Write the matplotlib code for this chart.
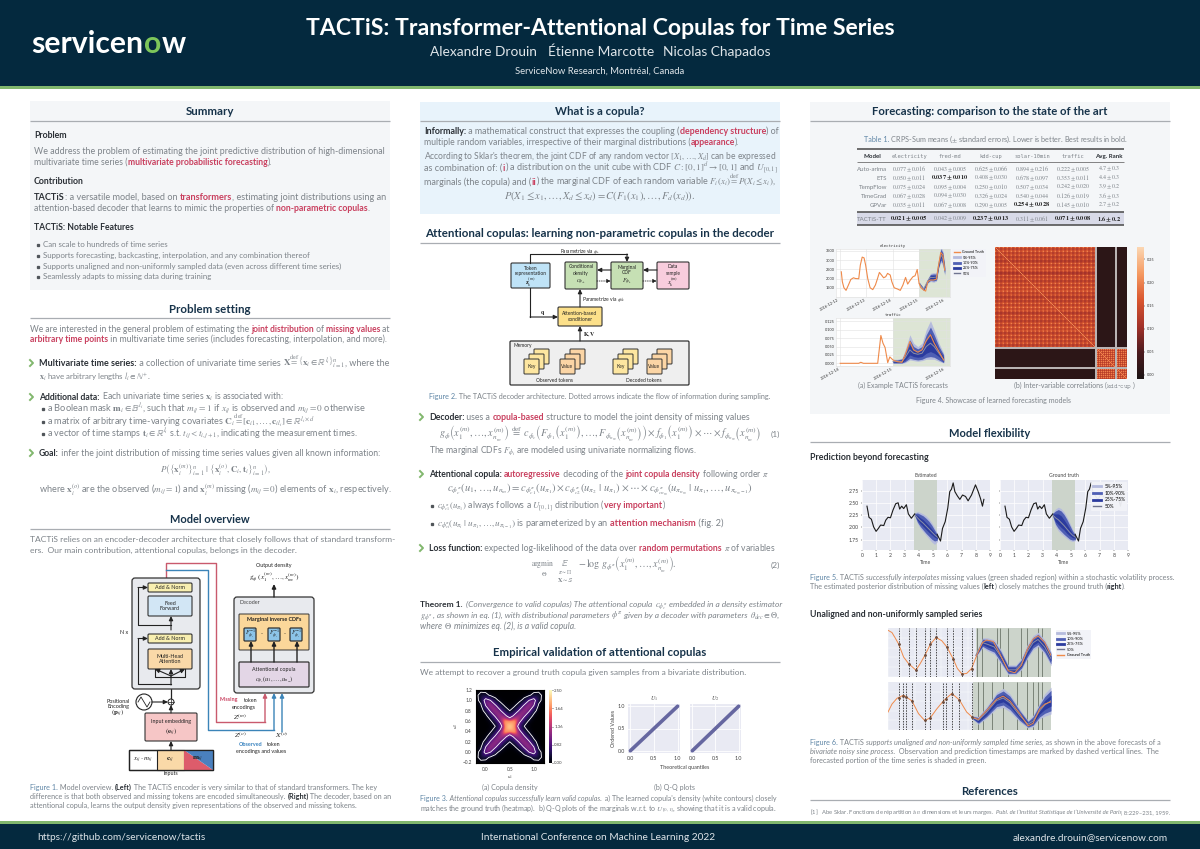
import numpy as np
import matplotlib
matplotlib.use('Agg')
import matplotlib.pyplot as plt
from matplotlib.colors import FuncNorm, LinearSegmentedColormap
from matplotlib.lines import Line2D
from matplotlib.patches import FancyBboxPatch, Polygon, Rectangle, Circle

plt.rcParams['font.family'] = ['Lato', 'DejaVu Sans']
plt.rcParams['mathtext.fontset'] = 'stix'

NAVY = '#04293e'
GREEN = '#81b76d'
GREY = '#7d8389'
DARK = '#2b3036'
RED = '#c9405f'
HEAD = '#17334a'
CAPBLUE = '#5f86a6'
BLUE = '#3b84c0'
PANEL = '#f4f6f8'
PANELBLUE = '#e8f3fb'

# Table 1
table_models = ['Auto-arima', 'ETS', 'TempFlow', 'TimeGrad', 'GPVar', 'TACTiS-TT']
table_headers = ['electricity', 'fred-md', 'kdd-cup', 'solar-10min', 'traffic']
table_values = [
    ['0.077 \\pm 0.016', '0.043 \\pm 0.005', '0.625 \\pm 0.066', '0.894 \\pm 0.216', '0.222 \\pm 0.005', '4.7 \\pm 0.3'],
    ['0.050 \\pm 0.011', '0.037 \\pm 0.010', '0.408 \\pm 0.030', '0.678 \\pm 0.097', '0.353 \\pm 0.011', '4.4 \\pm 0.3'],
    ['0.075 \\pm 0.024', '0.095 \\pm 0.004', '0.250 \\pm 0.010', '0.507 \\pm 0.034', '0.242 \\pm 0.020', '3.9 \\pm 0.2'],
    ['0.067 \\pm 0.028', '0.094 \\pm 0.030', '0.326 \\pm 0.024', '0.540 \\pm 0.044', '0.126 \\pm 0.019', '3.6 \\pm 0.3'],
    ['0.035 \\pm 0.011', '0.067 \\pm 0.008', '0.290 \\pm 0.005', '0.254 \\pm 0.028', '0.145 \\pm 0.010', '2.7 \\pm 0.2'],
    ['0.021 \\pm 0.005', '0.042 \\pm 0.009', '0.237 \\pm 0.013', '0.311 \\pm 0.061', '0.071 \\pm 0.008', '1.6 \\pm 0.2'],
]
table_bold = [(1, 1), (4, 3), (5, 0), (5, 2), (5, 4), (5, 5)]

# Figure 3a, one quadrant of the copula density, mirrored when drawn
copula_quadrant = np.array([
    [0, 0, 0, 0, 0, 0, 0, 0],
    [0, .35, .30, .08, 0, 0, 0, 0],
    [0, .30, 1.20, .90, .30, .05, 0, 0],
    [0, .08, .90, 1.35, 1.00, .40, .10, .03],
    [0, 0, .30, 1.00, 1.30, 1.00, .40, .15],
    [0, 0, .05, .40, 1.00, 1.35, 1.10, .50],
    [0, 0, 0, .10, .40, 1.10, 2.00, 1.60],
    [0, 0, 0, .03, .15, .50, 1.60, 2.50],
])
copula_ticks = [0.00, 0.82, 1.36, 1.64, 2.50]
copula_axis = [-0.2, -0.1, 0.0, 0.1, 0.2, 0.3, 0.4, 0.5, 0.6, 0.7, 0.8, 0.9, 1.0, 1.1, 1.2]

# Figure 3b
qq_quantiles = [0.0, 0.25, 0.5, 0.75, 1.0]

# Figure 4a, electricity
elec_t = [.05, .09, .15, .23, .32, .41, .51, .59, .71, .77, .84, .91, .97, 1.05, 1.14, 1.24, 1.34, 1.42, 1.49, 1.57,
          1.65, 1.73, 1.80, 1.90, 1.96, 2.05, 2.18, 2.28, 2.38, 2.48, 2.56, 2.66, 2.76, 2.84, 2.92, 2.99, 3.06, 3.16,
          3.24, 3.32, 3.42, 3.54, 3.65, 3.73, 3.81, 3.89, 3.96]
elec_v = [2366, 1826, 1500, 1360, 1650, 1950, 2040, 2000, 1990, 2730, 3160, 3120, 2730, 2000, 1500, 1400, 1650, 2000,
          2330, 2190, 2040, 2100, 2280, 2190, 1830, 1500, 1430, 1360, 1650, 2060, 1700, 1920, 2100, 2150, 2490, 1740,
          1500, 1380, 1320, 1830, 1920, 1920, 1970, 2730, 3410, 3270, 2460]
elec_fc_t = [3.0, 3.16, 3.32, 3.42, 3.54, 3.65, 3.73, 3.81, 3.89, 3.96]
elec_fc_med = [1740, 1420, 1880, 2060, 2060, 2080, 2750, 3300, 3100, 2450]
elec_hw90 = [60, 80, 130, 220, 260, 220, 200, 420, 400, 300]
elec_hw80 = [40, 60, 90, 160, 190, 160, 150, 300, 300, 220]
elec_hw50 = [20, 30, 50, 90, 110, 90, 90, 160, 170, 120]

# Figure 4a, traffic
traf_t = [0, .35, .39, .44, .71, .77, .81, .85, .90, .94, 1.0, 1.08, 1.17, 1.23, 1.32, 1.39, 1.47, 1.55, 1.63, 1.71,
          1.78, 1.87, 1.96]
traf_v = [0, 0, .003, 0, 0, .083, .06, .047, .002, .019, .01, .005, .003, .025, .065, .04, .033, .04, .067, .085, .06,
          .035, .01]
traf_fc_t = [1.0, 1.08, 1.17, 1.23, 1.32, 1.39, 1.47, 1.55, 1.63, 1.71, 1.78, 1.87, 1.96]
traf_q95 = [.012, .012, .015, .04, .085, .06, .05, .06, .1, .127, .1, .06, .03]
traf_q90 = [.01, .01, .013, .032, .07, .05, .043, .05, .085, .108, .085, .05, .025]
traf_q75 = [.008, .008, .01, .025, .055, .04, .035, .042, .07, .09, .07, .04, .018]
traf_q50 = [.005, .005, .005, .017, .04, .03, .027, .03, .05, .06, .05, .03, .01]
traf_q25 = [.003, .003, .003, .01, .025, .02, .018, .02, .03, .035, .03, .02, .005]
traf_q10 = [.001, .001, .001, .005, .015, .012, .01, .012, .018, .02, .018, .01, .002]
traf_q05 = [0, 0, 0, .002, .01, .008, .006, .008, .012, .012, .012, .006, .001]

# Figure 4b, block correlations
corr_tile = [[.20, .15, .15, .17], [.15, .125, .125, .14], [.15, .125, .125, .14], [.17, .14, .14, .16]]
corr_shade = [1.0, 1.0, .95, .9, 1.0, 1.05, .85, 1.0, .95, 1.0, 1.05, 1.0, .9, .95, 1.0, 1.05, .9, 1.0, .95, 1.0, 1.05,
              .95, 1.0, 1.0, .95]
corr_off = 0.012

# Figure 5
vol_t1 = [.35, .42, .49, .66, .82, .99, 1.15, 1.31, 1.53, 1.67, 1.83, 2.0, 2.18, 2.37, 2.54, 2.65, 2.79, 2.93, 3.12,
          3.26, 3.47, 3.71]
vol_v1 = [2.44, 2.33, 2.21, 2.17, 2.01, 1.92, 1.98, 2.05, 2.04, 2.15, 2.21, 2.2, 2.36, 2.49, 2.51, 2.38, 2.44, 2.39,
          2.47, 2.28, 2.19, 2.28]
vol_t2 = [5.28, 5.52, 5.66, 5.85, 6.03, 6.17, 6.29, 6.41, 6.53, 6.71, 6.88, 7.07, 7.28, 7.46, 7.7, 7.98, 8.17, 8.33,
          8.47, 8.57]
vol_v2 = [1.86, 1.72, 1.98, 2.12, 2.40, 2.74, 2.79, 2.92, 2.74, 2.65, 2.58, 2.67, 2.64, 2.55, 2.67, 2.88, 2.74, 2.60,
          2.44, 2.58]
vol_fc_t = [3.7, 3.9, 4.1, 4.3, 4.5, 4.7, 4.9, 5.1, 5.3]
est_q95 = [2.30, 2.33, 2.31, 2.28, 2.24, 2.18, 2.10, 2.00, 1.87]
est_q90 = [2.29, 2.30, 2.27, 2.24, 2.19, 2.13, 2.05, 1.95, 1.85]
est_q75 = [2.28, 2.25, 2.20, 2.16, 2.10, 2.04, 1.97, 1.90, 1.82]
est_q50 = [2.27, 2.20, 2.14, 2.09, 2.03, 1.97, 1.91, 1.85, 1.80]
est_q25 = [2.26, 2.15, 2.08, 2.02, 1.96, 1.90, 1.85, 1.80, 1.77]
est_q10 = [2.25, 2.11, 2.02, 1.95, 1.88, 1.82, 1.76, 1.72, 1.74]
est_q05 = [2.24, 2.08, 1.98, 1.91, 1.84, 1.77, 1.70, 1.65, 1.71]
gt_q95 = [2.30, 2.38, 2.42, 2.39, 2.32, 2.22, 2.10, 1.97, 1.86]
gt_q90 = [2.29, 2.34, 2.37, 2.34, 2.27, 2.17, 2.05, 1.93, 1.84]
gt_q75 = [2.28, 2.28, 2.28, 2.24, 2.16, 2.07, 1.97, 1.88, 1.82]
gt_q50 = [2.26, 2.20, 2.16, 2.10, 2.04, 1.97, 1.90, 1.84, 1.80]
gt_q25 = [2.25, 2.12, 2.06, 2.00, 1.95, 1.88, 1.83, 1.79, 1.78]
gt_q10 = [2.24, 2.07, 1.98, 1.92, 1.86, 1.81, 1.76, 1.74, 1.75]
gt_q05 = [2.23, 2.03, 1.93, 1.87, 1.82, 1.77, 1.73, 1.71, 1.73]

# Figure 6
sine1_t = [0, 12, 22, 32, 47, 62, 84, 97, 111, 128, 145, 162, 178, 196, 209, 223, 237, 252, 267, 285, 297, 317, 337,
           362, 382, 402, 420, 437, 452, 472, 491]
sine1_v = [143, 136, 119, 101, 61, 41, 21, 41, 66, 101, 121, 111, 91, 56, 26, 9, 11, 26, 66, 106, 113, 109, 71, 19, 13,
           36, 86, 116, 126, 106, 66]
sine1_obs = [32, 62, 84, 111, 128, 145, 178, 196, 223, 252]
sine1_pred = [267, 282, 327, 337, 362, 402, 420, 452, 464]
sine1_fc_t = [264, 285, 300, 320, 340, 362, 385, 402, 420, 437, 452, 472, 491]
sine1_med = [66, 105, 100, 92, 62, 22, 22, 40, 78, 105, 115, 92, 56]
sine1_hw90 = [5, 15, 20, 22, 22, 15, 15, 18, 22, 22, 22, 22, 22]
sine1_hw80 = [4, 11, 15, 16, 16, 11, 11, 13, 16, 16, 16, 16, 16]
sine1_hw50 = [2, 6, 8, 8, 8, 6, 6, 7, 8, 8, 8, 8, 8]
sine2_t = [0, 12, 27, 47, 72, 92, 111, 128, 147, 167, 192, 215, 237, 255, 272, 297, 327, 347, 367, 397, 422, 437, 457,
           472, 491]
sine2_v = [56, 81, 99, 109, 91, 51, 29, 39, 66, 91, 114, 94, 56, 39, 33, 61, 96, 106, 91, 51, 13, 21, 66, 81, 88]
sine2_obs = [32, 44, 55, 71, 110, 128, 165, 174, 193, 215, 254]
sine2_pred = [270, 285, 312, 347, 390, 419, 437, 452, 464]
sine2_fc_t = [255, 272, 297, 327, 347, 367, 397, 422, 437, 457, 472, 491]
sine2_med = [39, 30, 55, 92, 100, 85, 45, 18, 28, 60, 78, 92]
sine2_hw90 = [6, 12, 18, 25, 30, 28, 20, 12, 18, 25, 35, 42]
sine2_hw80 = [4, 9, 13, 19, 22, 21, 15, 9, 13, 19, 26, 32]
sine2_hw50 = [2, 5, 7, 10, 12, 11, 8, 5, 7, 10, 14, 17]

fig = plt.figure(figsize=(12, 8.49), dpi=100)
bg = fig.add_axes([0, 0, 1, 1])
bg.set_xlim(0, 1200)
bg.set_ylim(849, 0)
bg.axis('off')
renderer = fig.canvas.get_renderer()

STYLES = {
    '': dict(color=GREY),
    'b': dict(color=DARK, fontweight='bold'),
    'r': dict(color=RED, fontweight='bold'),
    'i': dict(color=GREY, fontstyle='italic'),
    'c': dict(color=CAPBLUE),
}


def run_width(s, size, style):
    t1 = bg.text(0, 0, '|' + s + '|', fontsize=size, **STYLES[style])
    t2 = bg.text(0, 0, '||', fontsize=size, **STYLES[style])
    w = t1.get_window_extent(renderer).width - t2.get_window_extent(renderer).width
    t1.remove()
    t2.remove()
    return w


def rich(x, y, parts, size=5.7, width=None, ha='left'):
    parts = [(p, '') if isinstance(p, str) else p for p in parts]
    if width is not None:
        total = sum(run_width(s, size, st) for s, st in parts)
        size = size * width / total
    widths = [run_width(s, size, st) for s, st in parts]
    if ha == 'center':
        x = x - sum(widths) / 2
    for (s, st), w in zip(parts, widths):
        bg.text(x, y, s, fontsize=size, va='baseline', ha='left', **STYLES[st])
        x += w


def heading(cx, y, s, x0, x1, width, rule_y):
    t = bg.text(cx, y, s, fontsize=8.5, fontweight='bold', color=HEAD, ha='center', va='baseline')
    w = t.get_window_extent(renderer).width
    t.set_fontsize(8.5 * width / w)
    bg.plot([x0, x1], [rule_y, rule_y], color='#a9adb2', lw=0.9, solid_capstyle='butt')


def chevron(x, y):
    bg.plot([x, x + 3, x], [y - 6, y - 3, y], color=GREEN, lw=1.4)


def bullet(x, y):
    bg.plot([x], [y - 2], 's', color='#50555a', ms=1.4)


def box(x0, y0, x1, y1, fc, ec='#333333', lw=0.8, r=1.2, z=2):
    bg.add_patch(FancyBboxPatch((x0, y0), x1 - x0, y1 - y0, boxstyle='round,pad=0,rounding_size=%g' % r,
                                fc=fc, ec=ec, lw=lw, zorder=z))


def arrow(x0, y0, x1, y1, color='#222222', lw=0.8, ls='-'):
    bg.annotate('', xy=(x1, y1), xytext=(x0, y0), zorder=3,
                arrowprops=dict(arrowstyle='-|>,head_width=0.12,head_length=0.25', color=color, lw=lw,
                                shrinkA=0, shrinkB=0, ls=ls))


def label(x, y, s, size=3.9, color='#222222', ha='center', **kw):
    bg.text(x, y, s, fontsize=size, color=color, ha=ha, va='center', zorder=4, **kw)


def inset(x0, y0, x1, y1):
    return fig.add_axes([x0 / 1200, 1 - y1 / 849, (x1 - x0) / 1200, (y1 - y0) / 849])


def draw_bands(ax, t, q05, q10, q25, q50, q75, q90, q95):
    ax.fill_between(t, q05, q95, color='#b5bbdd', lw=0, zorder=3)
    ax.fill_between(t, q10, q90, color='#4f5fb4', lw=0, zorder=4)
    ax.fill_between(t, q25, q75, color='#2b3b9e', lw=0, zorder=5)
    ax.plot(t, q50, color='#8b8fa6', lw=0.7, zorder=6)


def band_legend(ax, truth=None, fontsize=2.8, **kw):
    handles = [Line2D([], [], color='#b5bbdd', lw=2), Line2D([], [], color='#4f5fb4', lw=2),
               Line2D([], [], color='#2b3b9e', lw=2), Line2D([], [], color='#6f7490', lw=1)]
    names = ['5%-95%', '10%-90%', '25%-75%', '50%']
    if truth == 'first':
        handles.insert(0, Line2D([], [], color='#ef8a4a', lw=1))
        names.insert(0, 'Ground Truth')
    elif truth == 'last':
        handles.append(Line2D([], [], color='#ef8a4a', lw=1))
        names.append('Ground Truth')
    ax.legend(handles, names, fontsize=fontsize, handlelength=1.6, labelspacing=0.35, borderpad=0.4, handletextpad=0.8,
              facecolor='#f2f3f8', edgecolor='none', framealpha=0.95, borderaxespad=0, **kw)


# header and footer
bg.add_patch(Rectangle((0, 0), 1200, 86, fc=NAVY, ec='none'))
bg.add_patch(Rectangle((0, 86), 1200, 3, fc=GREEN, ec='none'))
bg.add_patch(Rectangle((0, 821), 1200, 2.5, fc=GREEN, ec='none'))
bg.add_patch(Rectangle((0, 823.5), 1200, 26, fc=NAVY, ec='none'))

logo_x = 31
for piece, col in [('servicen', 'white'), ('o', '#7dc65a'), ('w', 'white')]:
    t = bg.text(logo_x, 53, piece, fontsize=21.7, fontweight='bold', color=col, va='baseline')
    logo_x = t.get_window_extent(renderer).x1 + 0.5

t = bg.text(600, 35, 'TACTiS: Transformer-Attentional Copulas for Time Series', fontsize=16.2, fontweight='bold',
            color='white', ha='center', va='baseline')
t.set_fontsize(16.2 * 589 / t.get_window_extent(renderer).width)
bg.text(430, 56, 'Alexandre Drouin', fontsize=9.9, color='#dfe5e9', va='baseline')
bg.text(548, 56, 'Étienne Marcotte', fontsize=9.9, color='#dfe5e9', va='baseline')
bg.text(663, 56, 'Nicolas Chapados', fontsize=9.9, color='#dfe5e9', va='baseline')
bg.text(600, 74, 'ServiceNow Research, Montréal, Canada', fontsize=6.8, color='#dfe5e9', ha='center', va='baseline')
bg.text(37, 840, 'https://github.com/servicenow/tactis', fontsize=7.3, color='#dfe5e9', va='baseline')
bg.text(598, 840, 'International Conference on Machine Learning 2022', fontsize=7.3, color='#dfe5e9', ha='center',
        va='baseline')
bg.text(1168, 840, 'alexandre.drouin@servicenow.com', fontsize=7.3, color='#dfe5e9', ha='right', va='baseline')

# left column
bg.add_patch(Rectangle((30, 101), 360, 189, fc=PANEL, ec='none'))
heading(210, 115, 'Summary', 30, 390, 48, 120.5)
rich(34, 138, [('Problem', 'b')], width=33)
rich(34, 154, ['We address the problem of estimating the joint predictive distribution of high-dimensional'], width=351)
rich(34, 165, ['multivariate time series (', ('multivariate probabilistic forecasting', 'r'), ').'], width=238)
rich(34, 184, [('Contribution', 'b')], width=50)
rich(34, 200, [('TACTiS', 'b'), ': a versatile model, based on ', ('transformers', 'r'),
               ', estimating joint distributions using an'], width=351)
rich(34, 211, ['attention-based decoder that learns to mimic the properties of ', ('non-parametric copulas', 'r'), '.'],
     width=332)
rich(34, 230, [('TACTiS: Notable Features', 'b')], width=100)
for yy, s in zip([247, 258, 269, 279],
                 ['Can scale to hundreds of time series',
                  'Supports forecasting, backcasting, interpolation, and any combination thereof',
                  'Supports unaligned and non-uniformly sampled data (even across different time series)',
                  'Seamlessly adapts to missing data during training']):
    bullet(38, yy)
    rich(43, yy, [s])

heading(210, 313, 'Problem setting', 30, 390, 81, 318)
rich(30, 332, ['We are interested in the general problem of estimating the ', ('joint distribution', 'r'), ' of ',
               ('missing values', 'r'), ' at'], width=360)
rich(30, 342, [('arbitrary time points', 'r'), ' in multivariate time series (includes forecasting, interpolation, and more).'],
     width=355)
chevron(30, 366)
rich(39, 366, [('Multivariate time series:', 'b'), ' a collection of univariate time series ',
               r'$\mathbf{X} \overset{\mathrm{def}}{=} \left\{\mathbf{x}_i \in \mathbb{R}^{l_i}\right\}_{i=1}^{n}$',
               ', where the'], width=349)
rich(39, 380, [r'$\mathbf{x}_i$ have arbitrary lengths $l_i \in \mathbb{N}^{+}$.'])
chevron(30, 400)
rich(39, 400, [('Additional data:', 'b'), ' Each univariate time series $\\mathbf{x}_i$ is associated with:'], width=246)
bullet(43, 411)
rich(47, 410.5, [r'a Boolean mask $\mathbf{m}_i \in \mathbb{B}^{l_i}$, such that $m_{ij}=1$ if $x_{ij}$ is observed and $m_{ij}=0$ otherwise'],
     width=318)
bullet(43, 424)
rich(47, 424.5, [r'a matrix of arbitrary time-varying covariates $\mathbf{C}_i \overset{\mathrm{def}}{=} [\mathbf{c}_{i1},\ldots,\mathbf{c}_{il_i}] \in \mathbb{R}^{l_i \times d}$'],
     width=268)
bullet(43, 436)
rich(47, 436, [r'a vector of time stamps $\mathbf{t}_i \in \mathbb{R}^{l_i}$ s.t. $t_{ij} < t_{i,j+1}$, indicating the measurement times.'],
     width=311)
chevron(30, 456)
rich(39, 456, [('Goal:', 'b'), ' infer the joint distribution of missing time series values given all known information:'],
     width=339)
rich(215, 473, [r'$P\left(\left\{\mathbf{x}_i^{(m)}\right\}_{i=1}^{n}\ |\ \left\{\mathbf{x}_i^{(o)},\mathbf{C}_i,\mathbf{t}_i\right\}_{i=1}^{n}\right)$,'],
     size=6.4, ha='center')
rich(39, 493, [r'where $\mathbf{x}_i^{(o)}$ are the observed ($m_{ij}=1$) and $\mathbf{x}_i^{(m)}$ missing ($m_{ij}=0$) elements of $\mathbf{x}_i$, respectively.'],
     width=351)

heading(210, 523, 'Model overview', 30, 390, 80, 529)
rich(30, 542, ['TACTiS relies on an encoder-decoder architecture that closely follows that of standard transform-'], width=360)
rich(30, 553, ['ers.  Our main contribution, attentional copulas, belongs in the decoder.'], width=263)

# Figure 1
box(132, 578, 200, 689, '#e8eaee', lw=0.9, r=3)
box(148, 583, 192, 592, '#f8efb0')
box(148, 596, 192, 616, '#d2e6f5')
box(148, 634, 192, 643, '#f8efb0')
box(148, 649, 192, 669, '#fad9a8')
label(170, 587.5, 'Add & Norm')
label(170, 606, 'Feed\nForward')
label(170, 638.5, 'Add & Norm')
label(170, 659, 'Multi-Head\nAttention')
label(124, 633, 'N x')
label(118, 704, 'Positional\nEncoding')
label(118, 713, r'$(\mathbf{p}_{ij})$', size=5)
bg.add_patch(Circle((144, 702), 8, fc='white', ec='#222222', lw=0.8, zorder=3))
bg.plot([138, 141, 144, 147, 150], [702, 697, 702, 707, 702], color='#222222', lw=0.6, zorder=4)
bg.add_patch(Circle((171, 702), 3, fc='white', ec='#222222', lw=0.7, zorder=3))
bg.plot([168, 174], [702, 702], color='#222222', lw=0.5, zorder=4)
bg.plot([171, 171], [699, 705], color='#222222', lw=0.5, zorder=4)
arrow(152, 702, 168, 702)
box(145, 713, 197, 741, '#f6c6c6')
label(171, 722, 'Input embedding')
label(171, 732, r'$(\mathbf{e}_{ij})$', size=5)
arrow(171, 750, 171, 741)
arrow(171, 713, 171, 705)
bg.plot([171, 171], [699, 592], color='#222222', lw=0.9, zorder=1.5)
arrow(171, 630, 171, 616)
arrow(171, 676, 155, 669)
arrow(171, 676, 185, 669)
arrow(171, 685, 171, 669)
bg.plot([155, 155, 185, 185], [669, 677, 677, 669], color='#222222', lw=0.8, zorder=3)
bg.plot([171, 138, 138], [684, 684, 638.5], color='#222222', lw=0.8, zorder=3)
arrow(138, 638.5, 148, 638.5)
bg.plot([171, 138, 138], [625, 625, 587.5], color='#222222', lw=0.8, zorder=3)
arrow(138, 587.5, 148, 587.5)
bg.add_patch(Rectangle((129, 750), 84, 20, fc='white', ec='#222222', lw=0.9, zorder=2))
bg.add_patch(Rectangle((157, 750), 27, 20, fc='#fad9a8', ec='#222222', lw=0.8, zorder=2))
bg.add_patch(Polygon([(184, 750), (184, 770), (213, 770)], fc='#dd5c6b', ec='none', zorder=2))
bg.add_patch(Polygon([(184, 750), (213, 750), (213, 770)], fc='#4a80be', ec='none', zorder=2))
bg.add_patch(Rectangle((129, 750), 84, 20, fc='none', ec='#222222', lw=0.9, zorder=2.5))
label(143, 760, r'$x_{ij}\cdot m_{ij}$', size=5)
label(170.5, 760, r'$\mathbf{c}_{ij}$', size=5.4)
label(198, 759, r'$\mathbf{m}_{ij}$', size=5.4)
label(171, 774, 'Inputs')
bg.plot([166, 166, 216, 216, 265], [578, 563, 563, 722, 722], color='#c95a6d', lw=1.0, zorder=1.6)
arrow(265, 722, 265, 693, color='#c95a6d', lw=1.0)
bg.plot([166, 208, 208, 274], [570, 570, 730, 730], color='#3b84b8', lw=1.0, zorder=1.6)
arrow(274, 730, 274, 693, color='#3b84b8', lw=1.0)
arrow(282, 732, 282, 693, color='#3b84b8', lw=1.0)
box(234, 597, 314, 693, '#e8eaee', lw=0.9, r=3)
label(239, 603, 'Decoder', ha='left', color='#444444')
box(239, 614, 309, 650, '#fbd79a', lw=0.7, r=0.8)
label(274, 620, 'Marginal inverse CDFs', fontweight='bold', size=3.9)
for x0 in [244, 268, 290]:
    box(x0, 628, x0 + 12, 641, '#8cc4e8', lw=0.9, r=1)
    label(x0 + 6, 634.5, r'$F_{\phi_i}^{-1}$', size=4.4)
label(262, 634, '-')
label(285, 634, '-')
box(239, 662, 309, 687, '#e3d6e6', lw=0.9, r=1)
label(274, 670, 'Attentional copula')
label(274, 680, r'$c_{\phi_c}(u_1,\ldots,u_{n_m})$', size=4.6)
for x0 in [251, 274, 297]:
    arrow(x0, 662, x0, 641, lw=1.0)
arrow(274, 597, 274, 584, lw=1.0)
label(274, 566, 'Output density')
label(274, 577, r'$g_\phi\ (x_1^{(m)},\ldots,x_{n_m}^{(m)})$', size=5.2)
label(220, 700, 'Missing', color=RED, ha='left', fontweight='bold')
label(244, 700, 'token', ha='left')
label(244, 708, 'encodings')
label(240, 717, r'$Z^{(m)}$', size=5.4)
label(240, 735, r'$Z^{(o)}$', size=5.4)
label(282, 735, r'$X^{(o)}$', size=5.4)
label(239, 744, 'Observed', color=BLUE, ha='left', fontweight='bold')
label(267, 744, 'token', ha='left')
label(261, 751.5, 'encodings and values')

rich(30, 790, [('Figure 1.', 'c'), ' Model overview. ', ('(Left)', 'b'), ' The TACTiS encoder is very similar to that of standard transformers. The key'],
     width=344)
rich(30, 799, ['difference is that both observed and missing tokens are encoded simultaneously. ', ('(Right)', 'b'),
               ' The decoder, based on an'], width=360)
rich(30, 808, ['attentional copula, learns the output density given representations of the observed and missing tokens.'],
     width=325)

# middle column
bg.add_patch(Rectangle((420, 102), 360, 112, fc=PANELBLUE, ec='none'))
heading(600, 115, 'What is a copula?', 420, 780, 89, 120.5)
rich(424, 134, [('Informally:', 'b'), ' a mathematical construct that expresses the coupling (', ('dependency structure', 'r'),
                ') of'], width=352)
rich(424, 145, ['multiple random variables, irrespective of their marginal distributions (', ('appearance', 'r'), ').'],
     width=314)
rich(424, 159, [r"According to Sklar's theorem, the joint CDF of any random vector $[X_1,\ldots,X_d]$ can be expressed"],
     width=352)
rich(424, 171, [r'as combination of: (', ('i', 'r'), r') a distribution on the unit cube with CDF $C:[0,1]^d \rightarrow [0,1]$ and $U_{[0,1]}$'],
     width=352)
rich(424, 184.5, ['marginals (the copula) and (', ('ii', 'r'), r') the marginal CDF of each random variable $F_i(x_i) \overset{\mathrm{def}}{=} P(X_i \leq x_i)$,'],
     width=352)
rich(600, 199, [r'$P(X_1 \leq x_1,\ldots,X_d \leq x_d) = C\left(F_1(x_1),\ldots,F_d(x_d)\right).$'], size=6.6, width=192,
     ha='center')

heading(600, 237, 'Attentional copulas: learning non-parametric copulas in the decoder', 420, 780, 348, 243)

# Figure 2
label(580, 251, r'Parametrize via $\phi_k$', size=3.4)
box(511, 263, 550, 288, '#bfe3f7')
box(565, 262, 597, 289, '#c6e0b4')
box(611, 262, 643, 289, '#c6e0b4')
box(657, 262, 689, 289, '#f8cddd')
box(558, 307, 602, 326, '#fce08a')
box(510, 341, 689, 385, '#efefef', lw=0.9)
label(530.5, 268, 'Token', size=3.5)
label(530.5, 274, 'representation', size=3.5)
label(530.5, 282, r'$\mathbf{z}_k^{(m)}$', size=4.5)
label(581, 267, 'Conditional', size=3.5)
label(581, 273, 'density', size=3.5)
label(581, 282, r'$c_{\phi_{ik}}$', size=4.5)
label(627, 267, 'Marginal', size=3.5)
label(627, 273, 'CDF', size=3.5)
label(627, 282, r'$F_{\phi_k}$', size=4.5)
label(673, 267, 'Data', size=3.5)
label(673, 273, 'sample', size=3.5)
label(673, 282, r'$x_k^{(m)}$', size=4.5)
label(580, 316.5, 'Attention-based\nconditioner', size=3.5)
bg.plot([530, 530, 627], [263, 254, 254], color='#222222', lw=0.8)
arrow(627, 254, 627, 262)
arrow(611, 270, 597, 270)
arrow(597, 281, 611, 281, lw=0.6, ls=':')
arrow(657, 270, 643, 270)
arrow(643, 281, 657, 281, lw=0.6, ls=':')
bg.plot([530, 530], [288, 317], color='#222222', lw=0.8)
arrow(530, 317, 558, 317)
label(543, 313, r'$\mathbf{q}$', size=4.2)
arrow(580, 307, 580, 289)
label(582, 300, r'Parametrize via $\phi_{ik}$', size=3.6, ha='left')
arrow(580, 341, 580, 326)
label(583, 335, r'$\mathbf{K},\mathbf{V}$', size=4.2, ha='left')
label(513, 345, 'Memory', size=3.5, ha='left')
for x0, fc, name in [(524, '#fde6a0', 'Key'), (560, '#fbd5a5', 'Value'), (613, '#fde6a0', 'Key'), (647, '#fbd5a5', 'Value')]:
    for k in [2, 1, 0]:
        box(x0 + 5 * k, 359 - 5 * k, x0 + 15 + 5 * k, 374 - 5 * k, fc, lw=0.7, r=0.8, z=2 + (2 - k) * 0.1)
    label(x0 + 7.5, 366.5, name, size=3.5)
label(555, 380, 'Observed tokens', size=3.5)
label(644, 380, 'Decoded tokens', size=3.5)
rich(600, 399, [('Figure 2.', 'c'), ' The TACTiS decoder architecture. Dotted arrows indicate the flow of information during sampling.'],
     width=340, ha='center')

chevron(420, 420)
rich(429, 420, [('Decoder:', 'b'), ' uses a ', ('copula-based', 'r'), ' structure to model the joint density of missing values'],
     width=319)
rich(439, 437, [r'$g_\phi\left(x_1^{(m)},\ldots,x_{n_m}^{(m)}\right)\ \overset{\mathrm{def}}{=}\ c_{\phi_c}\left(F_{\phi_1}\left(x_1^{(m)}\right),\ldots,F_{\phi_{n_m}}\left(x_{n_m}^{(m)}\right)\right) \times f_{\phi_1}\left(x_1^{(m)}\right) \times \cdots \times f_{\phi_{n_m}}\left(x_{n_m}^{(m)}\right)$'],
     width=320)
rich(771, 437, ['(1)'], size=6)
rich(429, 453, [r'The marginal CDFs $F_{\phi_i}$ are modeled using univariate normalizing flows.'], width=268)
chevron(420, 477)
rich(429, 477, [('Attentional copula:', 'b'), ' ', ('autoregressive', 'r'), ' decoding of the ', ('joint copula density', 'r'),
                r' following order $\pi$'], width=339)
rich(600, 492, [r'$c_{\phi_c^\pi}(u_1,\ldots,u_{n_m}) = c_{\phi_{c1}^\pi}(u_{\pi_1}) \times c_{\phi_{c2}^\pi}(u_{\pi_2}\ |\ u_{\pi_1}) \times \cdots \times c_{\phi_{cn_m}^\pi}(u_{\pi_{n_m}}\ |\ u_{\pi_1},\ldots,u_{\pi_{n_m-1}})$'],
     width=306, ha='center')
bullet(432, 508)
rich(437, 508, [r'$c_{\phi_{c1}^\pi}(u_{\pi_1})$ always follows a $U_{[0,1]}$ distribution (', ('very important', 'r'), ')'], width=226)
bullet(432, 526)
rich(437, 526, [r'$c_{\phi_{ci}^\pi}\left(u_{\pi_i}\ |\ u_{\pi_1},\ldots,u_{\pi_{i-1}}\right)$ is parameterized by an ',
                ('attention mechanism', 'r'), ' (fig. 2)'], width=286)
chevron(420, 551)
rich(429, 551, [('Loss function:', 'b'), ' expected log-likelihood of the data over ', ('random permutations', 'r'),
                r' $\pi$ of variables'], width=346)
rich(531, 566, [r'$\mathrm{argmin}$'], size=5.5)
label(544, 574, r'$\Theta$', size=4.5, color=GREY)
rich(561, 566, [r'$\mathbb{E}$'], size=6.5)
label(565, 572.5, r'$\pi\sim\Pi$', size=4, color=GREY)
label(565, 580, r'$\mathbf{X}\sim\mathcal{S}$', size=4.4, color=GREY)
rich(578, 568, [r'$-\,\log\,g_{\phi^\pi}\left(x_1^{(m)},\ldots,x_{n_m}^{(m)}\right).$'], width=100)
rich(771, 568, ['(2)'], size=6)
rich(420, 607, [('Theorem 1.', 'b'), ('  (Convergence to valid copulas) The attentional copula ', 'i'), r'$c_{\phi_c^\pi}$',
                (' embedded in a density estimator', 'i')], width=360)
rich(420, 618, [r'$g_{\phi^\pi}$', (', as shown in eq. (1), with distributional parameters ', 'i'), r'$\phi^\pi$',
                (' given by a decoder with parameters ', 'i'), r'$\theta_{dec}\in\Theta$,'], width=360)
rich(420, 629, [('where ', 'i'), r'$\Theta$', (' minimizes eq. (2), is a valid copula.', 'i')], width=154)

heading(600, 656, 'Empirical validation of attentional copulas', 420, 780, 213, 662)
rich(420, 675, ['We attempt to recover a ground truth copula given samples from a bivariate distribution.'], width=326)

# Figure 3a
right_half = np.hstack([copula_quadrant, copula_quadrant[:, -2::-1]])
copula_grid = np.vstack([right_half, right_half[-2::-1, :]])
levels_pos = [0, .25, .5, .75, 1]
norm = FuncNorm((lambda v: np.interp(v, copula_ticks, levels_pos), lambda v: np.interp(v, levels_pos, copula_ticks)),
                vmin=0, vmax=2.5)
ax = inset(476, 690, 543.5, 762.5)
im = ax.imshow(copula_grid, origin='lower', extent=[-0.25, 1.25, -0.25, 1.25], cmap='magma', norm=norm,
               interpolation='bicubic', aspect='auto')
ax.contour(copula_axis, copula_axis, copula_grid, levels=[0.15, 0.9], colors='white', linewidths=0.6)
ax.set_xlim(-0.2, 1.2)
ax.set_ylim(-0.2, 1.2)
ax.set_xticks([0, 0.5, 1.0], ['0.0', '0.5', '1.0'])
ax.set_yticks([-0.2, 0, 0.2, 0.4, 0.6, 0.8, 1.0, 1.2], ['\u22120.2', '0.0', '0.2', '0.4', '0.6', '0.8', '1.0', '1.2'])
ax.tick_params(labelsize=3.4, length=0, pad=3, labelcolor='#444444')
ax.set_xlabel('$u_1$', fontsize=3.8, labelpad=1.5, color='#444444')
ax.set_ylabel('$u_2$', fontsize=3.8, labelpad=1.5, color='#444444')
cax = inset(548.5, 690, 551.5, 763)
cb = fig.colorbar(im, cax=cax)
cb.set_ticks(copula_ticks, labels=['0.00', '0.82', '1.36', '1.64', '2.50'])
cb.ax.tick_params(labelsize=3.2, length=1, width=0.4, pad=1, labelcolor='#444444')
cb.outline.set_visible(False)
rich(510, 790, ['(a) Copula density'], size=5.1, ha='center')
rich(674, 790, ['(b) Q-Q plots'], size=5.1, ha='center')

# Figure 3b
for (x0, x1, name) in [(628, 680, '$U_1$'), (690, 741, '$U_2$')]:
    ax = inset(x0, 704, x1, 753)
    ax.set_facecolor('#e9eaf3')
    ax.plot(qq_quantiles, qq_quantiles, color='#6667a0', lw=2.6, solid_capstyle='round')
    ax.set_xlim(-0.05, 1.05)
    ax.set_ylim(-0.05, 1.05)
    ax.set_xticks([0, 0.5, 1.0], ['0.0', '0.5', '1.0'])
    ax.set_yticks([0, 0.5, 1.0], ['0.0', '0.5', '1.0'] if x0 == 628 else [])
    ax.grid(color='white', lw=0.6)
    ax.set_axisbelow(True)
    ax.tick_params(labelsize=3.9, length=0, pad=2, labelcolor='#444444')
    for sp in ax.spines.values():
        sp.set_visible(False)
    ax.set_title(name, fontsize=4.2, pad=2.5, color='#444444')
    if x0 == 628:
        ax.set_ylabel('Ordered Values', fontsize=3.9, labelpad=1.5, color='#444444')
label(684.5, 767, 'Theoretical quantiles', size=3.9, color='#444444')
rich(420, 801, [('Figure 3.', 'c'), (' Attentional copulas successfully learn valid copulas.', 'i'),
                "  a) The learned copula's density (white contours) closely"], width=358)
rich(420, 811, [r'matches the ground truth (heatmap).  b) Q-Q plots of the marginals w.r.t. to $U_{[0,1]}$, showing that it is a valid copula.'],
     width=358)

# right column
bg.add_patch(Rectangle((810, 102), 360, 312, fc=PANEL, ec='none'))
heading(990, 115, 'Forecasting: comparison to the state of the art', 810, 1170, 234, 120.5)
rich(864, 142, [('Table 1.', 'c'), ' CRPS-Sum means ($\\pm$ standard errors). Lower is better. Best results in bold.'], width=261)
bg.add_patch(Rectangle((857, 212), 267, 13, fc='#d8dae8', ec='none', zorder=1))
for yy, lw in [(149, 1.2), (162, 0.5), (212, 1.2), (225, 1.2)]:
    bg.plot([857, 1124], [yy, yy], color='#555555', lw=lw, solid_capstyle='butt', zorder=1.5)
col_x = [909, 950, 991, 1032, 1073, 1109]
bg.text(872, 156, 'Model', fontsize=4.4, color=DARK, fontweight='bold', ha='center', va='center')
for cx, name in zip(col_x, table_headers):
    bg.text(cx, 156, name, fontsize=3.9, family='DejaVu Sans Mono', color=GREY, ha='center', va='center')
bg.text(1109, 156, 'Avg. Rank', fontsize=4.4, color=DARK, fontweight='bold', ha='center', va='center')
for i, (name, row_y) in enumerate(zip(table_models, [169, 178, 187, 196, 205, 219])):
    bg.text(887, row_y, name, fontsize=4.4, color=GREY, ha='right', va='center')
    for j, val in enumerate(table_values[i]):
        if (i, j) in table_bold:
            s, col, fs = r'$\mathbf{%s}$' % val, '#222222', 4.6
        else:
            s, col, fs = '$%s$' % val, GREY, 4.3
        bg.text(col_x[j], row_y, s, fontsize=fs, color=col, ha='center', va='center')

# Figure 4a
ax = inset(836, 249, 950, 297)
ax.axvspan(3.0, 4.16, color='#dde5d5', lw=0, zorder=1)
draw_bands(ax, elec_fc_t, np.array(elec_fc_med) - elec_hw90, np.array(elec_fc_med) - elec_hw80,
           np.array(elec_fc_med) - elec_hw50, elec_fc_med, np.array(elec_fc_med) + elec_hw50,
           np.array(elec_fc_med) + elec_hw80, np.array(elec_fc_med) + elec_hw90)
ax.plot(elec_t, elec_v, color='#ef8a4a', lw=0.8, zorder=7)
ax.set_xlim(-0.15, 4.16)
ax.set_ylim(1000, 3600)
ax.set_xticks([0, 1, 2, 3, 4], ['2016-12-12', '2016-12-13', '2016-12-14', '2016-12-15', '2016-12-16'], rotation=30, ha='right')
ax.set_yticks([1500, 2000, 2500, 3000, 3500])
ax.grid(color='#e2e2e2', lw=0.4)
ax.tick_params(labelsize=2.8, length=0, pad=1, labelcolor='#333333')
ax.set_title('electricity', fontsize=2.9, pad=1.5, family='DejaVu Sans Mono', color='#333333')
for sp in ax.spines.values():
    sp.set_color('#dddddd')
    sp.set_linewidth(0.4)
band_legend(ax, truth='first', fontsize=2.6, loc='upper left', bbox_to_anchor=(1.02, 1.0))

ax = inset(836, 318, 950, 366)
ax.axvspan(1.0, 2.08, color='#dde5d5', lw=0, zorder=1)
draw_bands(ax, traf_fc_t, traf_q05, traf_q10, traf_q25, traf_q50, traf_q75, traf_q90, traf_q95)
ax.plot(traf_t, traf_v, color='#ef8a4a', lw=0.8, zorder=7)
ax.set_xlim(-0.08, 2.08)
ax.set_ylim(-0.008, 0.135)
ax.set_xticks([0, 1, 2], ['2016-12-14', '2016-12-15', '2016-12-16'], rotation=30, ha='right')
ax.set_yticks([0, .025, .05, .075, .1, .125], ['0.000', '0.025', '0.050', '0.075', '0.100', '0.125'])
ax.grid(color='#e2e2e2', lw=0.4)
ax.tick_params(labelsize=2.8, length=0, pad=1, labelcolor='#333333')
ax.set_title('traffic', fontsize=2.9, pad=1.5, family='DejaVu Sans Mono', color='#333333')
for sp in ax.spines.values():
    sp.set_color('#dddddd')
    sp.set_linewidth(0.4)

# Figure 4b
cmap4 = LinearSegmentedColormap.from_list('corr', ['#1c1414', '#4a1a1e', '#a3322a', '#d9562f', '#f59a62', '#fbd6b2'])
cmap4.set_bad('#b9b3b3')
big_block = np.tile(np.array(corr_tile), (25, 25)) * np.kron(np.array(corr_shade), np.ones(4))[:, None]
small_block = np.tile(np.array(corr_tile)[:2, :2], (15, 15))
sizes = [100, 18, 10]
corr = np.full((132, 132), corr_off)
edges = [0, 102, 122]
for a, sa in zip(edges, sizes):
    for b, sb in zip(edges, sizes):
        if a == 0 and b == 0:
            corr[0:100, 0:100] = big_block
        elif a > 0 and b > 0:
            corr[a:a + sa, b:b + sb] = small_block[:sa, :sb]
np.fill_diagonal(corr, 0.20)
corr[[100, 101, 120, 121], :] = np.nan
corr[:, [100, 101, 120, 121]] = np.nan
ax = inset(995, 247, 1127, 379)
im4 = ax.imshow(corr, cmap=cmap4, vmin=-0.009, vmax=0.277, interpolation='nearest', aspect='auto')
ax.axis('off')
cax = inset(1137, 247, 1144, 379)
cb = fig.colorbar(im4, cax=cax)
cb.set_ticks([0, .05, .1, .15, .2, .25], labels=['0.00', '0.05', '0.10', '0.15', '0.20', '0.25'])
cb.ax.tick_params(labelsize=2.8, length=0.8, width=0.3, pad=1, labelcolor='#333333')
cb.outline.set_visible(False)
rich(903, 388, ['(a) Example TACTiS forecasts'], size=5.1, ha='center', width=91)
rich(1074, 388, ['(b) Inter-variable correlations (', r'$\mathtt{kdd}$-$\mathtt{cup}$', ')'], size=5.1, ha='center', width=122)
rich(994, 403, ['Figure 4. Showcase of learned forecasting models'], size=5.1, ha='center', width=157)

heading(990, 437, 'Model flexibility', 810, 1170, 81, 442)
rich(810, 460, [('Prediction beyond forecasting', 'b')], width=118)

# Figure 5
for k, (x0, x1, name, qs) in enumerate([
        (862, 990, 'Estimated', (est_q05, est_q10, est_q25, est_q50, est_q75, est_q90, est_q95)),
        (1000, 1128, 'Ground truth', (gt_q05, gt_q10, gt_q25, gt_q50, gt_q75, gt_q90, gt_q95))]):
    ax = inset(x0, 480, x1, 550)
    ax.set_facecolor('#e8eaf3')
    ax.axvspan(3.65, 5.27, color='#ccd4cb', lw=0, zorder=1)
    draw_bands(ax, vol_fc_t, *qs)
    ax.plot(vol_t1, vol_v1, color='#1a1a1a', lw=0.8, zorder=7)
    ax.plot(vol_t2, vol_v2, color='#1a1a1a', lw=0.8, zorder=7)
    if k == 1:
        band_legend(ax, fontsize=3.5, loc='upper right', bbox_to_anchor=(0.995, 0.97))
        ax.get_legend().set_zorder(10)
    ax.set_xlim(0, 9)
    ax.set_ylim(1.535, 2.98)
    ax.set_xticks(range(10))
    ax.set_yticks([1.75, 2.0, 2.25, 2.5, 2.75], ['1.75', '2.00', '2.25', '2.50', '2.75'] if k == 0 else [])
    ax.grid(color='white', lw=0.5)
    ax.set_axisbelow(True)
    ax.tick_params(labelsize=3.7, length=0.8, width=0.3, pad=1.5, labelcolor='#444444')
    for sp in ax.spines.values():
        sp.set_visible(False)
    ax.set_title(name, fontsize=3.7, pad=2, color='#444444')
    ax.set_xlabel('Time', fontsize=3.7, labelpad=1, color='#444444')
rich(810, 580, [('Figure 5.', 'c'), ' TACTiS ', ('successfully interpolates', 'i'),
                ' missing values (green shaded region) within a stochastic volatility process.'], width=360)
rich(810, 589, ['The estimated posterior distribution of missing values (', ('left', 'b'),
                ') closely matches the ground truth (', ('right', 'b'), ').'], width=314)

rich(810, 617, [('Unaligned and non-uniformly sampled series', 'b')], width=174)

# Figure 6
for (y0, y1, t, v, obs, pred, fc_t, med, hw90, hw80, hw50, split) in [
        (628, 677, sine1_t, sine1_v, sine1_obs, sine1_pred, sine1_fc_t, sine1_med, sine1_hw90, sine1_hw80, sine1_hw50, 264),
        (682, 730, sine2_t, sine2_v, sine2_obs, sine2_pred, sine2_fc_t, sine2_med, sine2_hw90, sine2_hw80, sine2_hw50, 255)]:
    ax = inset(888, y0, 1051, y1)
    ax.set_facecolor('#e8eaf3')
    ax.axvspan(split, 491, color='#ccd4cb', lw=0, zorder=1)
    med = np.array(med)
    draw_bands(ax, fc_t, med - hw90, med - hw80, med - hw50, med, med + hw50, med + hw80, med + hw90)
    ax.plot(t, v, color='#ef8a4a', lw=0.7, zorder=7)
    ax.vlines(obs, 0, 150, color='#222222', lw=0.55, ls=(0, (2, 1.5)), zorder=8)
    ax.vlines(pred, 0, 150, color='#7a8378', lw=0.7, zorder=2)
    ax.plot(obs, np.interp(obs, t, v), 'o', color='#6b4a3a', ms=1, zorder=9)
    ax.set_xlim(0, 491)
    ax.set_ylim(0, 150)
    ax.set_xticks(range(0, 491, 40))
    ax.set_yticks(range(0, 150, 30))
    ax.grid(color='white', lw=0.3)
    ax.set_axisbelow(True)
    ax.tick_params(length=0, labelbottom=False, labelleft=False)
    for sp in ax.spines.values():
        sp.set_visible(False)
    if y0 == 628:
        band_legend(ax, truth='last', fontsize=2.8, loc='upper left', bbox_to_anchor=(1.03, 0.96))
rich(810, 745, [('Figure 6.', 'c'), ' TACTiS ', ('supports unaligned and non-uniformly sampled time series', 'i'),
                ', as shown in the above forecasts of a'], width=347)
rich(810, 754, [('bivariate noisy sine process.', 'i'), '  Observation and prediction timestamps are marked by dashed vertical lines.  The'],
     width=344)
rich(810, 763, ['forecasted portion of the time series is shaded in green.'], width=176)

heading(990, 795, 'References', 810, 1170, 57, 800)
rich(810, 814, ['[1]   Abe Sklar. Fonctions de répartition à $n$ dimensions et leurs marges. ',
                ('Publ. de l’Institut Statistique de l’Université de Paris', 'i'), ', 8:229–231, 1959.'], size=4.0, width=361)

fig.savefig('out.png', dpi=100)
